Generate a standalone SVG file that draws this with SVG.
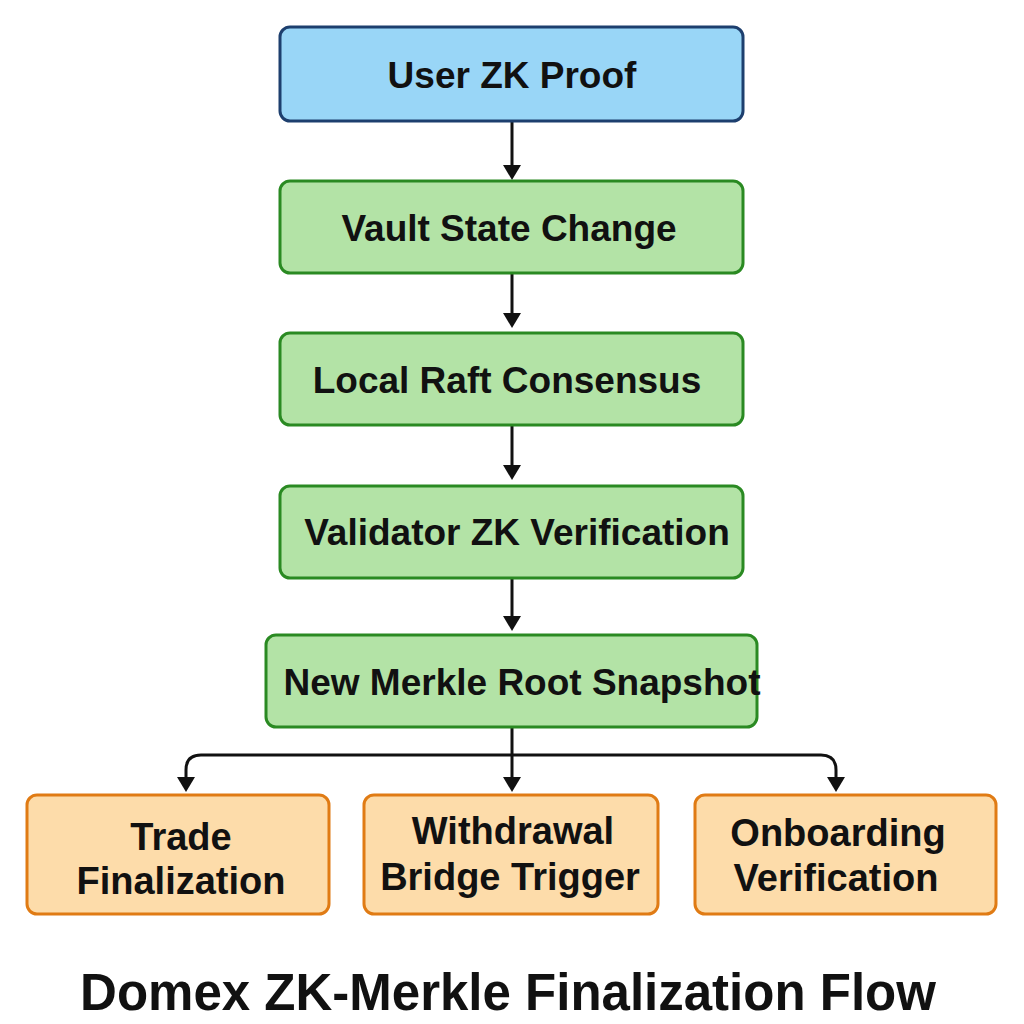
<svg xmlns="http://www.w3.org/2000/svg" width="1024" height="1024" viewBox="0 0 1024 1024">
<style>
.t{font-family:"Liberation Sans",Arial,sans-serif;font-weight:bold;font-size:38px;fill:#111;text-anchor:middle}
.s{font-size:37px}
.blue{fill:#99d6f7;stroke:#1d3f6e;stroke-width:3}
.green{fill:#b3e3a6;stroke:#2a8a22;stroke-width:3}
.orange{fill:#fddcaa;stroke:#e07b14;stroke-width:3}
.c{fill:none;stroke:#111;stroke-width:3}
.title{font-family:"Liberation Sans",Arial,sans-serif;font-weight:bold;font-size:51px;fill:#111;text-anchor:middle}
</style>
<rect width="1024" height="1024" fill="#fff"/>
<g id="connectors">
<path class="c" d="M512,121 V170"/>
<path d="M503,165 L521,165 L512,180 z" fill="#111"/>
<path class="c" d="M512,273 V318"/>
<path d="M503,313 L521,313 L512,328 z" fill="#111"/>
<path class="c" d="M512,425 V470"/>
<path d="M503,465 L521,465 L512,480 z" fill="#111"/>
<path class="c" d="M512,578 V622"/>
<path d="M503,616 L521,616 L512,631 z" fill="#111"/>
<path class="c" d="M512,727 V780"/>
<path d="M503,777 L521,777 L512,792 z" fill="#111"/>
<path class="c" d="M186,780 V770 Q186,755 201,755 H821 Q836,755 836,770 V780"/>
<path d="M177,777 L195,777 L186,792 z" fill="#111"/>
<path d="M827,777 L845,777 L836,792 z" fill="#111"/>
</g>
<g id="n1"><rect class="blue" x="280" y="27" width="463" height="94" rx="10"/><text class="t s" x="512" y="88">User ZK Proof</text></g>
<g id="n2"><rect class="green" x="280" y="181" width="463" height="92" rx="10"/><text class="t s" x="509" y="241">Vault State Change</text></g>
<g id="n3"><rect class="green" x="280" y="333" width="463" height="92" rx="10"/><text class="t s" x="507" y="393">Local Raft Consensus</text></g>
<g id="n4"><rect class="green" x="280" y="486" width="463" height="92" rx="10"/><text class="t s" x="517" y="545">Validator ZK Verification</text></g>
<g id="n5"><rect class="green" x="266" y="635" width="491" height="92" rx="10"/><text class="t s" x="522" y="695">New Merkle Root Snapshot</text></g>
<g id="n6"><rect class="orange" x="27" y="795" width="302" height="119" rx="10"/><text class="t" x="181" y="850">Trade</text><text class="t" x="181" y="894">Finalization</text></g>
<g id="n7"><rect class="orange" x="364" y="795" width="294" height="119" rx="10"/><text class="t" x="513" y="844">Withdrawal</text><text class="t" x="510" y="890">Bridge Trigger</text></g>
<g id="n8"><rect class="orange" x="695" y="795" width="301" height="119" rx="10"/><text class="t" x="838" y="846">Onboarding</text><text class="t" x="836" y="891">Verification</text></g>
<text class="title" x="508" y="1010">Domex ZK-Merkle Finalization Flow</text>
</svg>
